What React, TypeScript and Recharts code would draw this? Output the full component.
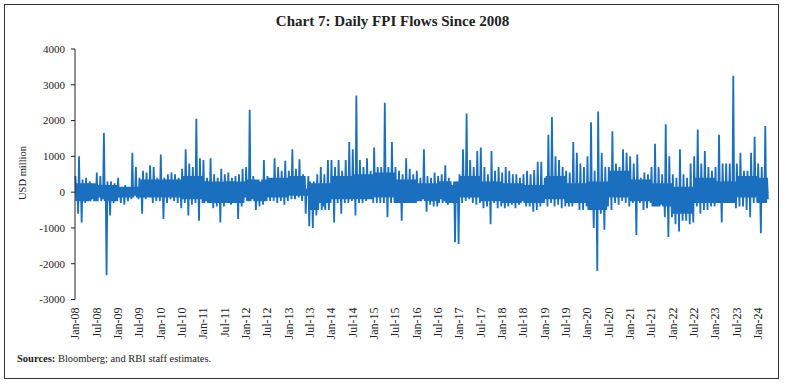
import { LineChart, Line, XAxis, YAxis, ReferenceLine } from 'recharts';

// monthly extremes of the daily flows (USD million), Jan-08 .. Mar-24
const monthlyHigh = [
  450, 1000, 350, 400, 300, 250, 550, 450, 1650, 300, 300, 250,
  400, 150, 200, 150, 1100, 700, 400, 600, 550, 750, 700, 400,
  1050, 400, 500, 550, 500, 400, 650, 1200, 800, 700, 2050, 950,
  900, 400, 950, 500, 400, 650, 500, 550, 400, 450, 500, 650,
  700, 2300, 450, 350, 300, 900, 450, 400, 950, 700, 600, 880,
  600, 1200, 650, 920, 500, 100, 300, 300, 500, 700, 500, 900,
  900, 700, 900, 600, 900, 1400, 1200, 2700, 900, 700, 950, 600,
  1250, 700, 700, 2500, 700, 1400, 700, 600, 500, 950, 650, 500,
  600, 400, 1200, 450, 400, 550, 450, 500, 750, 400, 200, 300,
  500, 1200, 2200, 900, 700, 1150, 1250, 700, 500, 1150, 600, 700,
  550, 700, 600, 500, 500, 400, 500, 600, 500, 620, 850, 850,
  400, 1600, 2100, 1000, 900, 700, 600, 550, 1400, 1100, 800, 700,
  1000, 1950, 600, 2250, 1100, 700, 700, 1700, 800, 700, 1200, 1100,
  1000, 800, 1050, 400, 550, 500, 700, 1350, 700, 500, 1900, 1000,
  500, 400, 1200, 500, 400, 800, 1000, 1750, 800, 1150, 700, 600,
  700, 1600, 800, 800, 800, 3250, 800, 1100, 600, 600, 1100, 1550,
  800, 700, 1850,
];

const monthlyLow = [
  -600, -850, -300, -250, -200, -250, -150, -200, -2320, -650, -300, -250,
  -300, -350, -250, -200, -100, -200, -600, -200, -150, -300, -250, -250,
  -750, -300, -200, -250, -300, -450, -300, -650, -350, -300, -800, -300,
  -250, -300, -450, -400, -850, -400, -300, -350, -300, -750, -400, -150,
  -250, -200, -500, -400, -350, -250, -250, -250, -300, -250, -350, -250,
  -200, -200, -150, -250, -600, -950, -1000, -650, -300, -400, -300, -300,
  -850, -300, -600, -300, -300, -250, -650, -300, -300, -250, -200, -300,
  -300, -300, -300, -700, -300, -300, -300, -800, -300, -300, -300, -300,
  -250, -200, -550, -350, -400, -400, -200, -250, -350, -300, -1400, -1450,
  -300, -250, -200, -300, -350, -300, -450, -400, -900, -300, -450, -400,
  -450, -400, -350, -450, -350, -250, -400, -400, -550, -500, -400, -300,
  -400, -300, -400, -350, -450, -400, -400, -400, -300, -500, -500, -400,
  -500, -1000, -2200, -600, -1050, -400, -500, -300, -350, -250, -300, -400,
  -300, -1200, -300, -500, -450, -300, -400, -400, -350, -700, -1250, -700,
  -900, -1100, -800, -800, -900, -850, -400, -600, -500, -500, -400, -400,
  -300, -850, -300, -300, -300, -450, -400, -400, -500, -700, -300, -300,
  -1150, -300, -200,
];

// dense core band of the daily flows, per half-year (USD million)
const coreHigh = [
  250, 200, 150, 350, 350, 450, 300, 300, 350, 400, 450, 250,
  450, 500, 550, 350, 250, 300, 450, 300, 250, 200, 450, 250,
  300, 600, 350, 250, 150, 400, 300, 450, 400,
];
const coreLow = [
  -250, -250, -150, -150, -150, -200, -300, -300, -250, -150, -100, -500,
  -200, -200, -150, -300, -250, -300, -150, -250, -300, -300, -200, -300,
  -500, -150, -250, -400, -600, -300, -300, -150, -300,
];

const tickLabels = [
  'Jan-08', 'Jul-08', 'Jan-09', 'Jul-09', 'Jan-10', 'Jul-10', 'Jan-11', 'Jul-11',
  'Jan-12', 'Jul-12', 'Jan-13', 'Jul-13', 'Jan-14', 'Jul-14', 'Jan-15', 'Jul-15',
  'Jan-16', 'Jul-16', 'Jan-17', 'Jul-17', 'Jan-18', 'Jul-18', 'Jan-19', 'Jul-19',
  'Jan-20', 'Jul-20', 'Jan-21', 'Jul-21', 'Jan-22', 'Jul-22', 'Jan-23', 'Jul-23',
  'Jan-24',
];

const yTicks = [-3000, -2000, -1000, 0, 1000, 2000, 3000, 4000];

// each month: spike up to its high, swing through the core band, spike down to its low
const data = monthlyHigh.flatMap((hi, i) => {
  const h = Math.floor(i / 6);
  return [
    { t: i + 0.125, flow: hi },
    { t: i + 0.375, flow: coreLow[h] },
    { t: i + 0.625, flow: coreHigh[h] },
    { t: i + 0.875, flow: monthlyLow[i] },
  ];
});

const serif = '"Liberation Serif", "DejaVu Serif", serif';

const XTick = (props: any) => {
  const { x, y, payload } = props;
  const label = tickLabels[Math.round(payload.value / 6)];
  return (
    <text
      x={x}
      y={y}
      transform={`rotate(-90 ${x} ${y})`}
      textAnchor="end"
      dy="0.35em"
      fontSize={12}
      fontFamily={serif}
      fill="#222"
    >
      {label}
    </text>
  );
};

const YTick = (props: any) => {
  const { x, y, payload } = props;
  return (
    <text x={x} y={y} textAnchor="end" dy="0.35em" fontSize={11} fontFamily={serif} fill="#222">
      {payload.value}
    </text>
  );
};

const App = () => {
  return (
    <div style={{ position: 'absolute', left: 0, top: 0, width: 785, height: 384, background: '#fff' }}>
      <div
        style={{
          position: 'absolute',
          left: 4,
          top: 4,
          width: 775,
          height: 375,
          border: '1px solid #333',
          boxSizing: 'border-box',
        }}
      />
      <div
        style={{
          position: 'absolute',
          left: 0,
          top: 13,
          width: 785,
          textAlign: 'center',
          fontFamily: serif,
          fontWeight: 'bold',
          fontSize: 15,
          color: '#222',
        }}
      >
        Chart 7: Daily FPI Flows Since 2008
      </div>
      <div
        style={{
          position: 'absolute',
          left: 22,
          top: 173,
          transform: 'translate(-50%, -50%) rotate(-90deg)',
          whiteSpace: 'nowrap',
          fontFamily: serif,
          fontSize: 10.5,
          color: '#222',
        }}
      >
        USD million
      </div>
      <div
        style={{
          position: 'absolute',
          left: 17,
          top: 353,
          fontFamily: serif,
          fontSize: 10.5,
          color: '#222',
        }}
      >
        <b>Sources:</b> Bloomberg; and RBI staff estimates.
      </div>
      <LineChart
        width={785}
        height={384}
        data={data}
        margin={{ top: 49, right: 16.6, bottom: 24.5, left: 0 }}
        style={{ position: 'absolute', left: 0, top: 0 }}
      >
        <XAxis
          dataKey="t"
          type="number"
          domain={[0, 195]}
          ticks={tickLabels.map((_, i) => i * 6)}
          tick={<XTick />}
          axisLine={false}
          tickLine={false}
          height={60}
          interval={0}
        />
        <YAxis
          type="number"
          domain={[-3000, 4000]}
          ticks={yTicks}
          tick={<YTick />}
          width={75}
          tickSize={4}
          tickMargin={6}
          axisLine={{ stroke: '#222' }}
          tickLine={{ stroke: '#222' }}
          interval={0}
        />
        <ReferenceLine y={0} stroke="#222" strokeWidth={1} />
        <Line
          type="linear"
          dataKey="flow"
          stroke="#1a6fbf"
          strokeWidth={1.8}
          dot={false}
          isAnimationActive={false}
        />
      </LineChart>
    </div>
  );
};

export default App;
